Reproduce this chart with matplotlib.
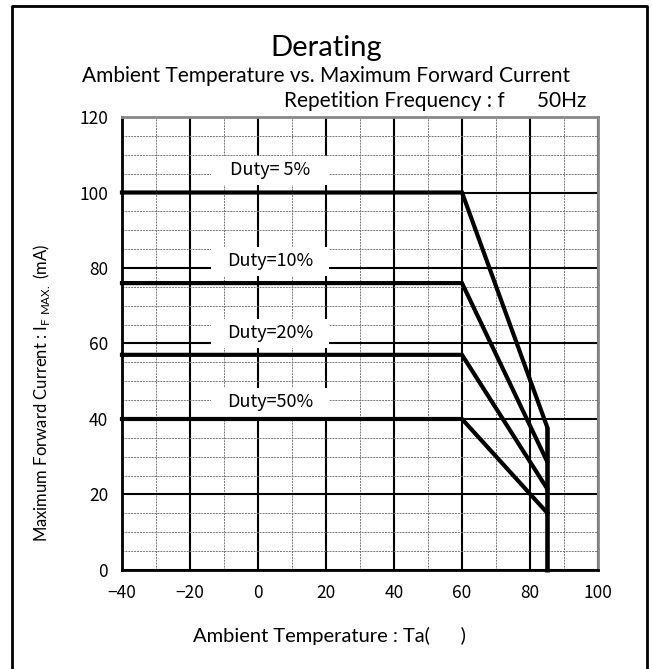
import matplotlib
matplotlib.use('agg')
import matplotlib.pyplot as plt
from matplotlib.patches import Rectangle
from matplotlib.ticker import MultipleLocator

# derating curves: flat up to 60 degC, then linear down to 85 degC
temps = [-40, 60, 85]
duty_labels = ['Duty= 5%', 'Duty=10%', 'Duty=20%', 'Duty=50%']
duty_flat = [100, 76, 57, 40]
duty_end = [38, 28.8, 21.6, 15.2]
label_y = [105.9, 81.8, 62.7, 44.4]
label_x = 3.5

x_ticks = [-40, -20, 0, 20, 40, 60, 80, 100]
x_tick_text = ['\u221240', '\u221220', '0', '20', '40', '60', '80', '100']
y_ticks = [0, 20, 40, 60, 80, 100, 120]

tick_font = 'Noto Sans CJK JP'
text_font = 'Lato'

fig = plt.figure(figsize=(6.52, 6.69), dpi=100)
ax = fig.add_axes([0.1871, 0.148, 0.9172 - 0.1871, 0.8251 - 0.148])

ax.set_xlim(-40, 100)
ax.set_ylim(0, 120)
ax.set_xticks(x_ticks)
ax.set_xticklabels(x_tick_text)
ax.set_yticks(y_ticks)
ax.xaxis.set_minor_locator(MultipleLocator(10))
ax.yaxis.set_minor_locator(MultipleLocator(5))
ax.grid(which='major', color='black', linewidth=1.5, zorder=1)
ax.grid(which='minor', color='#777777', linewidth=0.7, linestyle=(0, (2, 1)), zorder=0)
ax.tick_params(which='both', length=0)
ax.tick_params(axis='both', labelsize=12.5, pad=10)
for lab in ax.get_xticklabels() + ax.get_yticklabels():
    lab.set_family(tick_font)

ax.spines['left'].set_color('black')
ax.spines['bottom'].set_color('black')
ax.spines['top'].set_color('#888888')
ax.spines['right'].set_color('#888888')
for s in ax.spines.values():
    s.set_linewidth(2)
    s.set_zorder(5)

for flat, end in zip(duty_flat, duty_end):
    ax.plot(temps, [flat, flat, end], color='black', linewidth=3,
            solid_joinstyle='miter', zorder=4, clip_on=False)
ax.plot([85, 85], [duty_end[0], -0.5], color='black', linewidth=3.3,
        solid_capstyle='butt', zorder=4, clip_on=False)

# white boxes behind the duty labels hide the grid
box_w, box_h = 34.5, 7.6
for lab, ly in zip(duty_labels, label_y):
    ax.add_patch(Rectangle((label_x - box_w / 2, ly - box_h / 2), box_w, box_h,
                           facecolor='white', edgecolor='none', zorder=2))
    ax.text(label_x, ly, lab, ha='center', va='center', fontsize=13,
            family=tick_font, zorder=3)

fig.text(0.5, 0.928, 'Derating', ha='center', va='center', fontsize=21, family=text_font)
fig.text(0.5, 0.887, 'Ambient Temperature vs. Maximum Forward Current',
         ha='center', va='center', fontsize=15, family=text_font)
fig.text(0.900, 0.849, 'Repetition Frequency : f      50Hz',
         ha='right', va='center', fontsize=15, family=text_font)
fig.text(0.506, 0.049, 'Ambient Temperature : Ta(      )',
         ha='center', va='center', fontsize=14.5, family=text_font)
fig.text(0.064, 0.4126, 'Maximum Forward Current : I$_{\\mathregular{F\\ MAX.}}$ (mA)',
         ha='center', va='center', rotation=90, fontsize=12, family=text_font)

# outer frame, open at the bottom
fig.add_artist(plt.Line2D([0.0184, 0.0184, 0.9923, 0.9923], [0.0, 0.9910, 0.9910, 0.0],
                          transform=fig.transFigure, color='black', linewidth=2))

fig.savefig('out.png', dpi=100)
